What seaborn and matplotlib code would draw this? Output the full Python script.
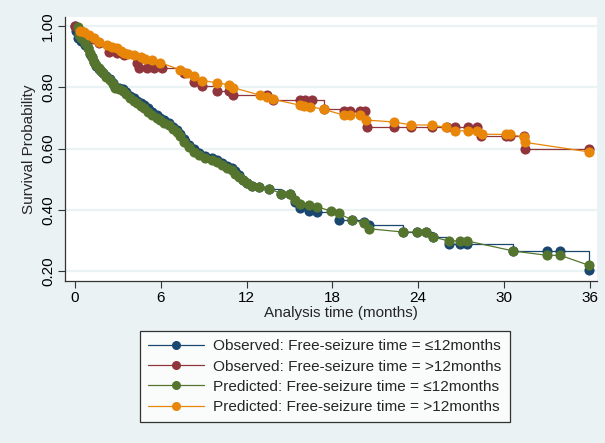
import matplotlib
matplotlib.use("Agg")
import matplotlib.pyplot as plt
from matplotlib.lines import Line2D
import seaborn as sns
import pandas as pd

# Observed (KM) curves
obs_le12_t = [0, 0.1, 0.22, 0.45, 0.73, 0.9, 1.08, 1.2, 1.31, 1.5, 1.66, 1.8, 1.94, 2.2,
              2.48, 2.65, 2.83, 3.1, 3.34, 3.6, 3.88, 4.1, 4.35, 4.6, 4.81, 5.1, 5.39,
              5.7, 5.97, 6.25, 6.55, 6.85, 7.14, 7.35, 7.6, 7.95, 8.3, 8.65, 9.1, 9.59,
              9.9, 10.29, 10.6, 10.99, 11.2, 11.45, 11.75, 12.03, 12.38, 12.84, 13.54,
              14.41, 15.06, 15.41, 15.76, 16.34, 16.93, 18.44, 19.37, 20.18, 20.53,
              22.94, 23.91, 24.56, 25.03, 26.12, 26.89, 27.41, 30.66, 33.0, 33.93, 35.95]
obs_le12_s = [1.0, 0.985, 0.96, 0.952, 0.94, 0.928, 0.91, 0.898, 0.884, 0.87, 0.86,
              0.853, 0.846, 0.836, 0.826, 0.815, 0.802, 0.799, 0.795, 0.785, 0.772,
              0.765, 0.757, 0.75, 0.742, 0.731, 0.72, 0.71, 0.70, 0.692, 0.683, 0.672,
              0.66, 0.646, 0.63, 0.61, 0.598, 0.585, 0.576, 0.568, 0.562, 0.552, 0.544,
              0.535, 0.525, 0.512, 0.498, 0.486, 0.477, 0.475, 0.469, 0.453, 0.453,
              0.425, 0.405, 0.395, 0.393, 0.365, 0.365, 0.36, 0.349, 0.327, 0.327,
              0.327, 0.311, 0.287, 0.287, 0.287, 0.265, 0.265, 0.265, 0.204]

obs_gt12_t = [0, 0.4, 0.73, 1.2, 1.66, 2.36, 2.95, 3.41, 4.35, 4.47, 5.04, 5.51, 6.09,
              7.6, 8.3, 8.89, 9.94, 10.75, 11.05, 13.43, 13.85, 15.7, 16.1, 16.57, 17.4,
              18.8, 19.25, 19.95, 20.3, 20.42, 22.28, 23.5, 24.96, 26.0, 26.6, 27.5,
              28.1, 28.4, 30.15, 30.4, 31.37, 31.5, 35.95]
obs_gt12_s = [1.0, 0.985, 0.966, 0.958, 0.945, 0.917, 0.911, 0.905, 0.879, 0.862, 0.862,
              0.862, 0.862, 0.846, 0.818, 0.804, 0.789, 0.789, 0.775, 0.775, 0.758,
              0.758, 0.758, 0.758, 0.728, 0.722, 0.722, 0.722, 0.722, 0.671, 0.671,
              0.671, 0.671, 0.671, 0.671, 0.671, 0.671, 0.641, 0.641, 0.641, 0.641,
              0.598, 0.598]

# Predicted (Cox) curves
pred_le12_t = [0.22, 0.31, 0.45, 0.73, 0.9, 1.08, 1.2, 1.31, 1.5, 1.66, 1.8, 1.94, 2.2,
               2.48, 2.65, 2.83, 3.1, 3.34, 3.6, 3.88, 4.1, 4.35, 4.6, 4.81, 5.1, 5.39,
               5.7, 5.97, 6.25, 6.55, 6.85, 7.14, 7.35, 7.6, 7.95, 8.3, 8.65, 9.1, 9.59,
               9.9, 10.29, 10.6, 10.99, 11.2, 11.45, 11.75, 12.03, 12.38, 12.84, 13.54,
               14.41, 15.06, 15.41, 15.76, 16.34, 16.93, 17.9, 18.44, 19.37, 20.18,
               20.53, 22.94, 23.91, 24.56, 25.03, 26.12, 26.89, 27.41, 30.66, 33.0,
               33.93, 35.95]
pred_le12_s = [0.996, 0.971, 0.96, 0.945, 0.93, 0.912, 0.898, 0.884, 0.872, 0.862,
               0.854, 0.846, 0.835, 0.824, 0.81, 0.798, 0.794, 0.789, 0.777, 0.764,
               0.757, 0.748, 0.74, 0.731, 0.72, 0.709, 0.70, 0.693, 0.685, 0.676, 0.665,
               0.655, 0.64, 0.622, 0.604, 0.59, 0.578, 0.57, 0.562, 0.555, 0.546, 0.538,
               0.529, 0.518, 0.507, 0.497, 0.486, 0.477, 0.475, 0.469, 0.453, 0.453,
               0.431, 0.418, 0.415, 0.409, 0.396, 0.388, 0.366, 0.357, 0.338, 0.327,
               0.327, 0.327, 0.311, 0.298, 0.298, 0.298, 0.265, 0.251, 0.251, 0.218]

pred_gt12_t = [0.38, 0.62, 0.96, 1.3, 1.66, 2.25, 2.6, 2.95, 3.2, 3.41, 3.7, 4.11, 4.58,
               4.9, 5.39, 5.97, 7.37, 7.84, 8.3, 8.9, 9.94, 10.75, 11.05, 12.92, 13.43,
               13.85, 15.7, 16.0, 16.46, 17.4, 18.8, 19.25, 19.95, 20.37, 22.28, 23.5,
               24.96, 25.96, 26.6, 27.5, 28.1, 28.45, 30.15, 30.4, 31.37, 31.5, 35.95]
pred_gt12_s = [0.985, 0.982, 0.971, 0.96, 0.949, 0.938, 0.933, 0.928, 0.92, 0.913,
               0.91, 0.906, 0.898, 0.894, 0.889, 0.881, 0.857, 0.846, 0.837, 0.822,
               0.815, 0.808, 0.799, 0.775, 0.769, 0.761, 0.742, 0.740, 0.737, 0.728,
               0.709, 0.709, 0.709, 0.693, 0.687, 0.677, 0.677, 0.669, 0.658, 0.658,
               0.658, 0.647, 0.646, 0.646, 0.638, 0.62, 0.589]

labels = ["Observed: Free-seizure time = \u226412months",
          "Observed: Free-seizure time = >12months",
          "Predicted: Free-seizure time = \u226412months",
          "Predicted: Free-seizure time = >12months"]
colors = ["#1A476F", "#90353B", "#55752F", "#E8860A"]
x_ticks = [0, 6, 12, 18, 24, 30, 36]
y_ticks = [0.2, 0.4, 0.6, 0.8, 1.0]

BG = "#EAF2F3"

sns.set_theme(style="white")
plt.rcParams["font.family"] = ["Liberation Sans", "DejaVu Sans"]

fig = plt.figure(figsize=(6.05, 4.43), dpi=100, facecolor=BG)
ax = fig.add_axes([65 / 605, 1 - 281 / 443, 532 / 605, 264 / 443])
ax.set_facecolor("white")

series = [
    (obs_le12_t, obs_le12_s, "steps-post"),
    (obs_gt12_t, obs_gt12_s, "steps-post"),
    (pred_le12_t, pred_le12_s, "default"),
    (pred_gt12_t, pred_gt12_s, "default"),
]
for (t, s, ds), col in zip(series, colors):
    df = pd.DataFrame({"t": t, "s": s})
    sns.lineplot(data=df, x="t", y="s", ax=ax, color=col, estimator=None, sort=False,
                 drawstyle=ds, lw=0.9, marker="o", markersize=7.3,
                 markeredgewidth=0, legend=False)

ax.set_xlim(-0.7, 36.5)
ax.set_ylim(0.167, 1.03)
ax.set_xticks(x_ticks)
ax.set_yticks(y_ticks)
ax.set_yticklabels([f"{v:.2f}" for v in y_ticks], rotation=90, va="center")
ax.tick_params(axis="both", direction="out", length=5, width=0.8, colors="#333333",
               labelcolor="black", labelsize=11, pad=2, bottom=True, left=True)
ax.grid(axis="y", color=BG, lw=1.6)
ax.set_axisbelow(True)
for side in ["top", "right"]:
    ax.spines[side].set_visible(False)
for side in ["left", "bottom"]:
    ax.spines[side].set_color("#333333")
    ax.spines[side].set_linewidth(0.9)

ax.set_xlabel("Analysis time (months)", fontsize=11, labelpad=2)
ax.xaxis.set_label_coords(0.519, -0.095)
ax.set_ylabel("Survival Probability", fontsize=11, labelpad=4)

handles = [Line2D([0], [0], color=c, lw=0.9, marker="o", markersize=6.5,
                  markeredgewidth=0) for c in colors]
leg = fig.legend(handles, labels, loc="upper left",
                 bbox_to_anchor=(140 / 605, 1 - 331 / 443), frameon=True,
                 fancybox=False, fontsize=11.1, handlelength=3.6, handletextpad=0.6,
                 labelspacing=0.4, borderpad=0.55, borderaxespad=0)
leg.get_frame().set_edgecolor("black")
leg.get_frame().set_linewidth(0.9)
leg.get_frame().set_facecolor("white")

fig.savefig("out.png", dpi=100, facecolor=BG)
